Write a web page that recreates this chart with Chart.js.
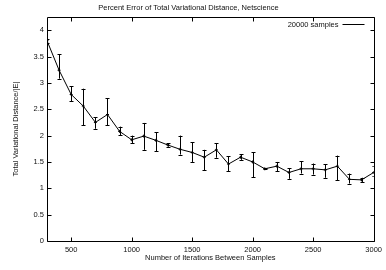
<!DOCTYPE html>
<html>
<head>
<meta charset="utf-8">
<script src="https://cdn.jsdelivr.net/npm/chart.js@4/dist/chart.umd.min.js"></script>
<style>
    html, body { margin: 0; padding: 0; background: #fff; }
</style>
</head>
<body>
<canvas id="graph1" width="386" height="270"></canvas>
<script>
/*
    percent error of TVD vs iterations between samples
    values, error bars as low/high
*/
const iterations = [300, 400, 500, 600, 700, 800, 900, 1000, 1100, 1200, 1300, 1400, 1500, 1600,
    1700, 1800, 1900, 2000, 2100, 2200, 2300, 2400, 2500, 2600, 2700, 2800, 2900, 3000];
const tvdError = [3.80, 3.24, 2.78, 2.56, 2.25, 2.40, 2.08, 1.92, 1.99, 1.91, 1.82, 1.74, 1.68, 1.59,
    1.73, 1.46, 1.59, 1.50, 1.37, 1.42, 1.30, 1.37, 1.37, 1.35, 1.42, 1.17, 1.16, 1.30];
const errLow = [3.76, 3.08, 2.65, 2.20, 2.13, 2.20, 2.01, 1.85, 1.73, 1.70, 1.79, 1.64, 1.50, 1.34,
    1.58, 1.32, 1.54, 1.21, 1.36, 1.32, 1.18, 1.28, 1.26, 1.20, 1.15, 1.09, 1.12, 1.24];
const errHigh = [3.84, 3.54, 2.94, 2.89, 2.35, 2.71, 2.17, 2.00, 2.24, 2.06, 1.85, 2.00, 1.87, 1.73,
    1.85, 1.61, 1.65, 1.68, 1.38, 1.50, 1.38, 1.51, 1.47, 1.46, 1.62, 1.28, 1.20, 1.42];
const xTicks = [500, 1000, 1500, 2000, 2500, 3000];
const yTicks = [0, 0.5, 1, 1.5, 2, 2.5, 3, 3.5, 4];

const FONT = "'Liberation Sans', Arial, Helvetica, sans-serif";
const FS = 7.5;

// error bars, gnuplot style border with inward ticks, key in the top right
const gnuplotBits = {
    id: 'gnuplotBits',
    afterDatasetsDraw(chart) {
        const ctx = chart.ctx;
        const xs = chart.scales.x, ys = chart.scales.y;
        const area = chart.chartArea;
        ctx.save();
        ctx.beginPath();
        ctx.rect(area.left, area.top, area.right - area.left, area.bottom - area.top);
        ctx.clip();
        ctx.strokeStyle = '#000';
        ctx.lineWidth = 1;
        ctx.beginPath();
        for (let i = 0; i < iterations.length; i++) {
            const px = Math.round(xs.getPixelForValue(iterations[i])) + 0.5;
            const lo = ys.getPixelForValue(errLow[i]);
            const hi = ys.getPixelForValue(errHigh[i]);
            ctx.moveTo(px, lo);
            ctx.lineTo(px, hi);
            ctx.moveTo(px - 2, Math.round(lo) + 0.5);
            ctx.lineTo(px + 2, Math.round(lo) + 0.5);
            ctx.moveTo(px - 2, Math.round(hi) + 0.5);
            ctx.lineTo(px + 2, Math.round(hi) + 0.5);
        }
        ctx.stroke();
        ctx.restore();
    },
    afterDraw(chart) {
        const ctx = chart.ctx;
        const xs = chart.scales.x, ys = chart.scales.y;
        const a = chart.chartArea;
        const L = Math.round(a.left) + 0.5, R = Math.round(a.right) + 0.5;
        const T = Math.round(a.top) + 0.5, B = Math.round(a.bottom) + 0.5;
        ctx.save();
        ctx.strokeStyle = '#000';
        ctx.lineWidth = 1;
        ctx.beginPath();
        ctx.rect(L, T, R - L, B - T);
        xs.ticks.forEach(t => {
            const px = Math.round(xs.getPixelForValue(t.value)) + 0.5;
            ctx.moveTo(px, B); ctx.lineTo(px, B - 4);
            ctx.moveTo(px, T); ctx.lineTo(px, T + 4);
        });
        ys.ticks.forEach(t => {
            const py = Math.round(ys.getPixelForValue(t.value)) + 0.5;
            ctx.moveTo(L, py); ctx.lineTo(L + 4, py);
            ctx.moveTo(R, py); ctx.lineTo(R - 4, py);
        });
        ctx.stroke();

        // key
        const ds = chart.data.datasets[0];
        const ky = Math.round(a.top) + 7.5;
        ctx.fillStyle = '#111';
        ctx.font = FS + 'px ' + FONT;
        ctx.textAlign = 'right';
        ctx.textBaseline = 'middle';
        ctx.fillText(ds.label, R - 36, ky);
        ctx.beginPath();
        ctx.moveTo(R - 32, ky);
        ctx.lineTo(R - 10, ky);
        ctx.stroke();
        ctx.restore();
    }
};

const g1 = new Chart("graph1", {
    type: "line",
    data: {
        datasets: [{
            label: "20000 samples",
            data: iterations.map((x, i) => ({x: x, y: tvdError[i]})),
            borderColor: "#000",
            backgroundColor: "#000",
            borderWidth: 1,
            pointStyle: 'cross',
            pointRadius: 1.5,
            pointBorderWidth: 1,
            tension: 0
        }]
    },
    options: {
        responsive: false,
        animation: false,
        devicePixelRatio: 1,
        layout: { padding: { left: 0, right: 9, top: 0, bottom: 0 } },
        plugins: {
            title: {
                display: true,
                text: 'Percent Error of Total Variational Distance, Netscience',
                color: '#111',
                font: { family: FONT, size: FS, weight: 'normal' },
                padding: { top: 3, bottom: 5 }
            },
            legend: { display: false },
            tooltip: { enabled: false }
        },
        scales: {
            x: {
                type: 'linear',
                min: 300,
                max: 3000,
                grid: { display: false, drawTicks: false },
                border: { display: false },
                afterBuildTicks(scale) { scale.ticks = xTicks.map(v => ({value: v})); },
                ticks: {
                    autoSkip: false,
                    color: '#111',
                    padding: 4,
                    maxRotation: 0,
                    font: { family: FONT, size: FS },
                    callback: v => String(v)
                },
                title: {
                    display: true,
                    text: 'Number of Iterations Between Samples',
                    color: '#111',
                    font: { family: FONT, size: FS },
                    padding: { top: 0, bottom: 8 }
                },
                afterFit(scale) { scale.height = 29; }
            },
            y: {
                min: 0,
                max: 4.25,
                grid: { display: false, drawTicks: false },
                border: { display: false },
                afterBuildTicks(scale) { scale.ticks = yTicks.map(v => ({value: v})); },
                ticks: {
                    autoSkip: false,
                    color: '#111',
                    padding: 3,
                    font: { family: FONT, size: FS },
                    callback: v => String(v)
                },
                title: {
                    display: true,
                    text: 'Total Variational Distance/|E|',
                    color: '#111',
                    font: { family: FONT, size: FS },
                    padding: { top: 11, bottom: 0 }
                },
                afterFit(scale) { scale.width = 47; }
            }
        }
    },
    plugins: [gnuplotBits]
});
</script>
</body>
</html>
